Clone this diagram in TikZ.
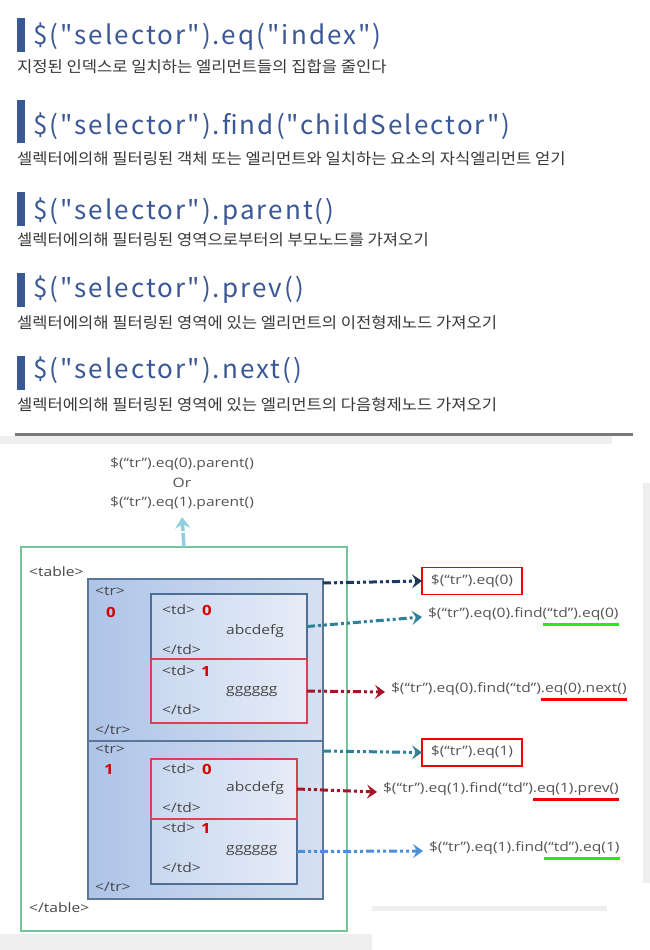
\documentclass[tikz,border=0pt]{standalone}
\usepackage{fontspec}
\setmainfont{Open Sans}
\newfontfamily\krfont[FakeStretch=1.07]{Noto Sans CJK KR}
\newfontfamily\codefont[LetterSpace=8]{Noto Sans CJK KR}
\newfontfamily\dgfont[FakeStretch=1.2]{Open Sans}
\usetikzlibrary{arrows.meta}
\definecolor{hdblue}{HTML}{3A5796}
\definecolor{subgray}{HTML}{383838}
\definecolor{tblgreen}{HTML}{74C49A}
\definecolor{trborder}{HTML}{5A7799}
\definecolor{trdark}{HTML}{AEC4E8}
\definecolor{trlight}{HTML}{D6E1F2}
\definecolor{tdborder}{HTML}{4F6E93}
\definecolor{tddark}{HTML}{C9D8F0}
\definecolor{tdlight}{HTML}{E6ECF7}
\definecolor{tdredc}{HTML}{D24452}
\definecolor{taggray}{HTML}{474747}
\definecolor{lblgray}{HTML}{555555}
\definecolor{idxred}{HTML}{D40000}
\definecolor{boxred}{HTML}{F00000}
\definecolor{ulgreen}{HTML}{22EE11}
\definecolor{ulred}{HTML}{F00000}
\definecolor{navyc}{HTML}{1B3A63}
\definecolor{tealc}{HTML}{2E8199}
\definecolor{darkredc}{HTML}{A5152A}
\definecolor{bluec}{HTML}{4A8FD9}
\definecolor{upblue}{HTML}{8ECFE0}
\definecolor{bggray}{HTML}{EEEEEE}
\definecolor{linegray}{HTML}{7A7A7A}
\newlength\ulwd
\newcommand\ulmark[2]{\settowidth\ulwd{#2}\rlap{\textcolor{#1}{\rule[-8pt]{\ulwd}{2.5pt}}}#2}
\begin{document}
\begin{tikzpicture}[x=1pt,y=-1pt,
 bar/.style={fill=hdblue, minimum width=8pt, inner sep=0pt, outer sep=0pt, anchor=north west},
 code/.style={font=\codefont\fontsize{26}{30}\selectfont, text=hdblue, inner sep=0pt, anchor=base west},
 sub/.style={font=\krfont\fontsize{15.5}{18}\selectfont, text=subgray, inner sep=0pt, anchor=west},
 tblbox/.style={draw=tblgreen, line width=2pt, inner sep=0pt, outer sep=0pt, anchor=north west},
 trbox/.style={draw=trborder, line width=1.5pt, left color=trdark, right color=trlight, minimum width=235pt, inner sep=0pt, outer sep=0pt, anchor=north west},
 tdbox/.style={draw=tdborder, line width=1.5pt, left color=tddark, right color=tdlight, inner sep=0pt, outer sep=0pt, anchor=north west},
 tdredbox/.style={tdbox, draw=tdredc},
 tag/.style={font=\dgfont\fontsize{13}{15}\selectfont, text=taggray, inner sep=0pt, anchor=west},
 idx/.style={font=\dgfont\bfseries\fontsize{14}{16}\selectfont, text=idxred, inner sep=0pt, anchor=west},
 lbl/.style={font=\dgfont\fontsize{13}{15}\selectfont, text=lblgray, inner xsep=6pt, inner ysep=0pt, outer sep=0pt, anchor=west},
 lblbox/.style={lbl, draw=boxred, line width=1.8pt, minimum width=100pt, minimum height=27pt},
 conn/.style={line width=3pt, dash pattern=on 8pt off 3pt on 3pt off 3pt on 3pt off 3pt, -{Stealth[length=10pt,width=14pt,inset=4pt]}},
 uparrow/.style={draw=upblue, line width=3.5pt, dash pattern=on 14pt off 2pt, -{Stealth[length=11pt,width=15pt,inset=4pt]}},
]
\useasboundingbox (0,0) rectangle (650,950);
\fill[white] (0,0) rectangle (650,950);

% screenshot background strips
\fill[bggray] (0,436) rectangle (612,444);
\fill[linegray] (15,433) rectangle (633,436);
\fill[bggray] (643,483) rectangle (650,883);
\fill[bggray] (0,934) rectangle (372,950);
\fill[bggray] (372,906) rectangle (607,911);

% header
\node[bar, minimum height=34pt] (b1) at (17,18) {};
\node[code] (h1) at (33,45) {\$("selector").eq("index")};
\node[sub] (s1) at (17,67) {지정된 인덱스로 일치하는 엘리먼트들의 집합을 줄인다};

\node[bar, minimum height=43pt] (b2) at (17,100) {};
\node[code] (h2) at (33,134) {\$("selector").find("childSelector")};
\node[sub] (s2) at (17,159) {셀렉터에의해 필터링된 객체 또는 엘리먼트와 일치하는 요소의 자식엘리먼트 얻기};

\node[bar, minimum height=34pt] (b3) at (17,192) {};
\node[code] (h3) at (33,219) {\$("selector").parent()};
\node[sub] (s3) at (17,240) {셀렉터에의해 필터링된 영역으로부터의 부모노드를 가져오기};

\node[bar, minimum height=34pt] (b4) at (17,273) {};
\node[code] (h4) at (33,297) {\$("selector").prev()};
\node[sub] (s4) at (17,323) {셀렉터에의해 필터링된 영역에 있는 엘리먼트의 이전형제노드 가져오기};

\node[bar, minimum height=34pt] (b5) at (17,356) {};
\node[code] (h5) at (33,378) {\$("selector").next()};
\node[sub] (s5) at (17,405) {셀렉터에의해 필터링된 영역에 있는 엘리먼트의 다음형제노드 가져오기};

% diagram
\node[font=\dgfont\fontsize{13}{19.5}\selectfont, text=lblgray, align=center, inner sep=0pt] (P) at (182,484)
  {\$(“tr”).eq(0).parent()\\Or\\\$(“tr”).eq(1).parent()};

\node[tblbox, minimum width=326pt, minimum height=384pt] (table) at (21,547) {};
\draw[uparrow] (table.north) -- ([yshift=-7pt]P.south);

\node[trbox, minimum height=162pt] (tr0) at (88,579) {};
\node[trbox, minimum height=158pt] (tr1) at (88,741) {};

\node[tdbox, minimum width=156pt, minimum height=65pt] (td00) at (151,594) {};
\node[tdredbox, minimum width=156pt, minimum height=64pt] (td01) at (151,659) {};
\node[tdbox, minimum width=146pt, minimum height=65pt] (td11) at (151,819) {};
\node[tdredbox, minimum width=146pt, minimum height=60pt] (td10) at (151,759) {};

\node[tag] (ttab) at (29,572) {<table>};
\node[tag] (ttabe) at (29,908) {</table>};

\node[tag] (tr0o) at (95,591) {<tr>};
\node[idx] (tr0i) at (106,612) {0};
\node[tag] (tr0c) at (95,730) {</tr>};
\node[tag] (td00o) at (162,610) {<td>};
\node[idx] (td00i) at (202,610) {0};
\node[tag] (td00t) at (226,631) {abcdefg};
\node[tag] (td00c) at (162,650) {</td>};
\node[tag] (td01o) at (162,671) {<td>};
\node[idx] (td01i) at (201,671) {1};
\node[tag] (td01t) at (226,692) {gggggg};
\node[tag] (td01c) at (162,710) {</td>};

\node[tag] (tr1o) at (95,749) {<tr>};
\node[idx] (tr1i) at (104,769) {1};
\node[tag] (tr1c) at (95,887) {</tr>};
\node[tag] (td10o) at (162,769) {<td>};
\node[idx] (td10i) at (202,769) {0};
\node[tag] (td10t) at (226,788) {abcdefg};
\node[tag] (td10c) at (162,808) {</td>};
\node[tag] (td11o) at (162,828) {<td>};
\node[idx] (td11i) at (201,828) {1};
\node[tag] (td11t) at (226,851) {gggggg};
\node[tag] (td11c) at (162,868) {</td>};

% labels
\node[lblbox] (L1) at (422,581) {\$(“tr”).eq(0)};
\node[lbl] (L2) at (422,617) {\$(“tr”).eq(0).find\ulmark{ulgreen}{(“td”).eq(0)}};
\node[lbl] (L3) at (385,692) {\$(“tr”).eq(0).find(“td”)\ulmark{ulred}{.eq(0).next()}};
\node[lblbox] (L4) at (422,752.5) {\$(“tr”).eq(1)};
\node[lbl] (L5) at (377,792) {\$(“tr”).eq(1).find(“td”)\ulmark{ulred}{.eq(1).prev()}};
\node[lbl] (L6) at (423,851) {\$(“tr”).eq(1).find\ulmark{ulgreen}{(“td”).eq(1)}};

% connectors
\draw[conn, navyc] ([yshift=-4pt]tr0.north east) -- (L1.west);
\draw[conn, tealc] (td00.east) -- (L2.west);
\draw[conn, darkredc] (td01.east) -- (L3.west);
\draw[conn, tealc] ([yshift=-10pt]tr1.north east) -- (L4.west);
\draw[conn, darkredc] (td10.east) -- (L5.west);
\draw[conn, bluec] (td11.east) -- (L6.west);
\end{tikzpicture}
\end{document}
